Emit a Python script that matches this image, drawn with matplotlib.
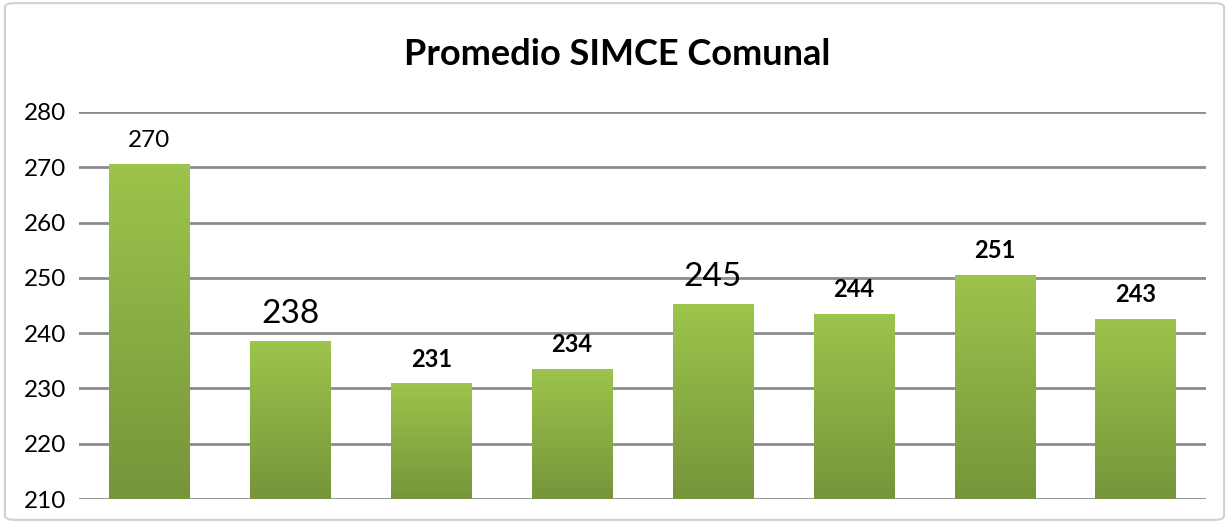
import matplotlib.pyplot as plt
import numpy as np
from matplotlib.colors import LinearSegmentedColormap
from matplotlib.patches import FancyBboxPatch

# Valores del grafico
valores = [270.6, 238.5, 230.9, 233.6, 245.2, 243.5, 250.6, 242.6]
etiquetas = ['270', '238', '231', '234', '245', '244', '251', '243']
# estilo de cada etiqueta (tamano, peso) tal como aparece en la imagen
tam_etiquetas = [17.5, 24, 17, 17, 24, 17, 17, 17]
peso_etiquetas = ['normal', 'normal', 'bold', 'bold', 'normal', 'bold', 'bold', 'bold']
y_ticks = [210, 220, 230, 240, 250, 260, 270, 280]

plt.rcParams['font.family'] = ['Lato', 'DejaVu Sans']

fig = plt.figure(figsize=(12.29, 5.23), dpi=100)
ax = fig.add_axes([79 / 1229, 24 / 523, 1127 / 1229, 387 / 523])

# borde gris de la figura
fig.patches.append(FancyBboxPatch((0.004, 0.006), 0.992, 0.988,
                                  boxstyle='round,pad=0,rounding_size=0.008',
                                  transform=fig.transFigure, fill=False,
                                  edgecolor='#d0d0d0', linewidth=1.5))

verde = LinearSegmentedColormap.from_list('verde', ['#76953a', '#9dc44c'])
grad = np.linspace(0, 1, 256).reshape(-1, 1)

x = np.arange(len(valores))
ancho = 0.57
barras = ax.bar(x, np.array(valores) - 210, bottom=210, width=ancho,
                color='none', edgecolor='none', zorder=3)
for b, v in zip(barras, valores):
    x0 = b.get_x()
    im = ax.imshow(grad, cmap=verde, origin='lower', aspect='auto',
                   extent=[x0, x0 + ancho, 210, v], zorder=3)
    im.set_clip_path(b)

for xi, v, t, s, w in zip(x, valores, etiquetas, tam_etiquetas, peso_etiquetas):
    ax.text(xi, v + 2.3, t, ha='center', va='bottom', fontsize=s,
            fontweight=w, color='black', zorder=4)

ax.set_xlim(-0.5, len(valores) - 0.5)
ax.set_ylim(210, 280)
ax.set_yticks(y_ticks)
ax.set_xticks([])
ax.tick_params(axis='y', length=0, labelsize=17.5, pad=9)
ax.grid(axis='y', color='#8c8c8c', linewidth=2, zorder=1)
for s in ax.spines.values():
    s.set_visible(False)

fig.text(0.502, 0.895, 'Promedio SIMCE Comunal', ha='center', va='center',
         fontsize=26, fontweight='bold')

fig.savefig('out.png', dpi=100)
